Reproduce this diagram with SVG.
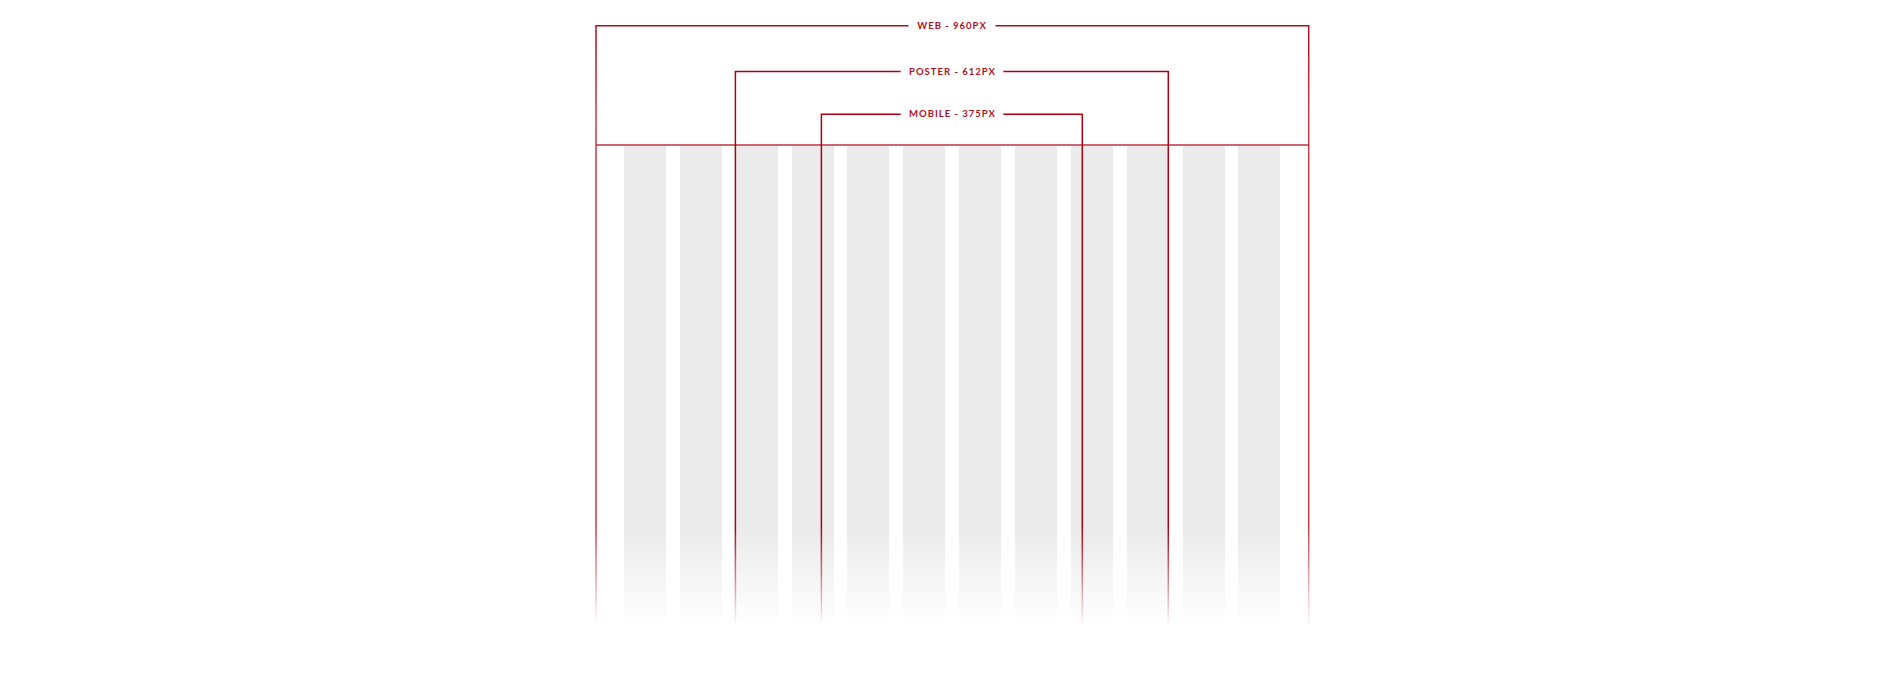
<svg xmlns="http://www.w3.org/2000/svg" width="1900" height="700" viewBox="0 0 1900 700">
  <style>
    .col { fill: url(#colFade); }
    .lbl { font-family: Lato, "Liberation Sans", sans-serif; font-weight: 700; font-size: 9.5px; letter-spacing: 1px; fill: #b0101e; text-anchor: middle; }
    .br { fill: none; stroke: url(#lineFade); stroke-width: 1.5; }
    .web { fill: none; stroke: url(#webFade); stroke-width: 1.5; }
  </style>
  <defs>
    <linearGradient id="colFade" gradientUnits="userSpaceOnUse" x1="0" y1="146" x2="0" y2="626">
      <stop offset="0" stop-color="#ebebeb"/>
      <stop offset="0.8" stop-color="#ebebeb"/>
      <stop offset="1" stop-color="#ffffff"/>
    </linearGradient>
    <linearGradient id="lineFade" gradientUnits="userSpaceOnUse" x1="0" y1="0" x2="0" y2="626">
      <stop offset="0" stop-color="#ab0012" stop-opacity="1"/>
      <stop offset="0.84" stop-color="#ab0012" stop-opacity="1"/>
      <stop offset="1" stop-color="#ab0012" stop-opacity="0"/>
    </linearGradient>
    <linearGradient id="webFade" gradientUnits="userSpaceOnUse" x1="0" y1="0" x2="0" y2="626">
      <stop offset="0" stop-color="#ab0012" stop-opacity="1"/>
      <stop offset="0.2" stop-color="#b51a2a" stop-opacity="0.85"/>
      <stop offset="0.84" stop-color="#b51a2a" stop-opacity="0.85"/>
      <stop offset="1" stop-color="#b51a2a" stop-opacity="0"/>
    </linearGradient>
  </defs>
  <rect width="1900" height="700" fill="#ffffff"/>

  <g id="columns">
    <rect class="col" x="624" y="146" width="42" height="480"/>
    <rect class="col" x="680" y="146" width="42" height="480"/>
    <rect class="col" x="736" y="146" width="42" height="480"/>
    <rect class="col" x="792" y="146" width="42" height="480"/>
    <rect class="col" x="847" y="146" width="42" height="480"/>
    <rect class="col" x="903" y="146" width="42" height="480"/>
    <rect class="col" x="959" y="146" width="42" height="480"/>
    <rect class="col" x="1015" y="146" width="42" height="480"/>
    <rect class="col" x="1071" y="146" width="42" height="480"/>
    <rect class="col" x="1127" y="146" width="42" height="480"/>
    <rect class="col" x="1183" y="146" width="42" height="480"/>
    <rect class="col" x="1238" y="146" width="42" height="480"/>
  </g>

  <g id="connectors">
    <line x1="596" y1="145" x2="1309" y2="145" stroke="#c0404c" stroke-opacity="0.8" stroke-width="2"/>
  </g>

  <g id="web">
    <path class="web" d="M596,626 V25.8 H908.5 M995.5,25.8 H1308.7 V626"/>
    <text class="lbl" x="952" y="29.3">WEB - 960PX</text>
  </g>
  <g id="poster">
    <path class="br" d="M735.4,626 V71.4 H900.7 M1003.3,71.4 H1168.3 V626"/>
    <text class="lbl" x="952.5" y="74.5">POSTER - 612PX</text>
  </g>
  <g id="mobile">
    <path class="br" d="M821.4,626 V114.2 H900.7 M1003.3,114.2 H1082.3 V626"/>
    <text class="lbl" x="952.5" y="117.3">MOBILE - 375PX</text>
  </g>
</svg>
